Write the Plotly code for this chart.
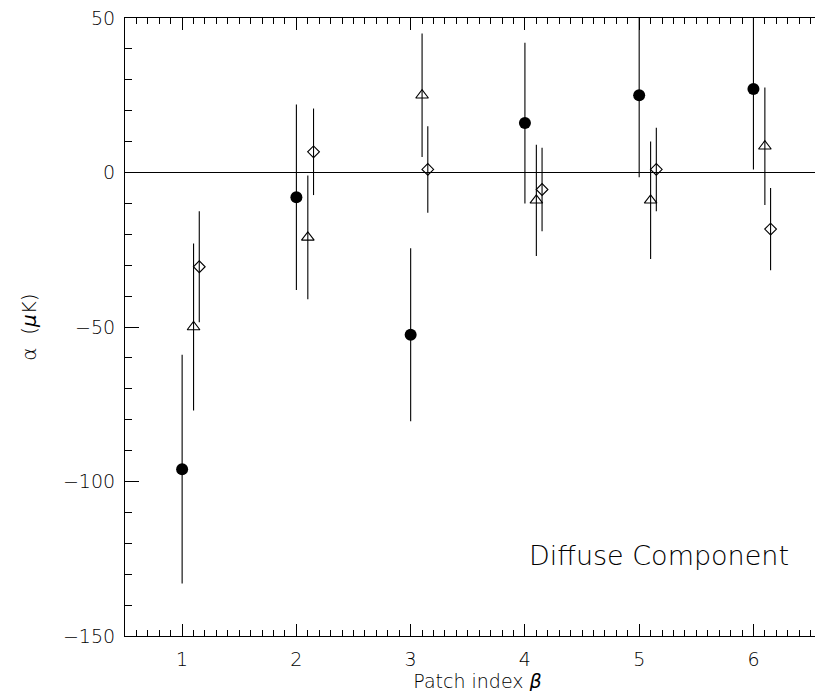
import plotly.graph_objects as go

# ---- data ----
patch = [1, 2, 3, 4, 5, 6]

dot_vals = [-96, -8, -52.5, 16, 25, 27]
dot_err = [37, 30, 28, 26, 26.5, 26]

tri_x = [1.10, 2.10, 3.10, 4.10, 5.10, 6.10]
tri_vals = [-50, -21, 25, -9, -9, 8.5]
tri_err = [27, 20, 20, 18, 19, 19]

dia_x = [1.15, 2.15, 3.15, 4.15, 5.15, 6.15]
dia_vals = [-30.5, 6.7, 1, -5.5, 1, -18.3]
dia_err = [18, 14, 14, 13.5, 13.5, 13.3]

y_ticks = [50, 0, -50, -100, -150]
x_ticks = [1, 2, 3, 4, 5, 6]

FONT = "DejaVu Sans"
fig = go.Figure()

def err(vals):
    return dict(type="data", array=vals, visible=True, color="black",
                thickness=1.1, width=0)

fig.add_trace(go.Scatter(x=patch, y=dot_vals, mode="markers",
                         marker=dict(symbol="circle", size=12, color="black"),
                         error_y=err(dot_err), showlegend=False))
fig.add_trace(go.Scatter(x=tri_x, y=tri_vals, mode="markers",
                         marker=dict(symbol="triangle-up-open", size=11, color="black",
                                     line=dict(width=1.1, color="black")),
                         error_y=err(tri_err), showlegend=False))
fig.add_trace(go.Scatter(x=dia_x, y=dia_vals, mode="markers",
                         marker=dict(symbol="diamond-open", size=9, color="black",
                                     line=dict(width=1.1, color="black")),
                         error_y=err(dia_err), showlegend=False))

fig.add_annotation(x=5.17, y=-124, xref="x", yref="y", text="Diffuse Component",
                   showarrow=False, font=dict(family=FONT, size=27, color="#000000", weight=300))

tfont = dict(family=FONT, size=19, color="#000000", weight=300)
axis_common = dict(showgrid=False, showline=True, linecolor="black", linewidth=1.2,
                   mirror="ticks", ticks="inside", tickcolor="black", tickwidth=1.1,
                   tickfont=tfont, ticklabeloverflow="allow")

fig.update_xaxes(range=[0.5, 6.67], tickvals=x_ticks, ticklen=12, ticklabelstandoff=6,
                 minor=dict(ticks="inside", dtick=0.1, ticklen=6, tickcolor="black", tickwidth=1),
                 zeroline=False,
                 title=dict(text="Patch index <i>β</i>", standoff=4, font=tfont),
                 **axis_common)
fig.update_yaxes(range=[-150, 50], tickvals=y_ticks, ticklen=14, ticklabelstandoff=5,
                 minor=dict(ticks="inside", dtick=10, ticklen=7, tickcolor="black", tickwidth=1),
                 zeroline=True, zerolinecolor="black", zerolinewidth=1.2,
                 title=dict(text="α  (<i>μ</i>K)", standoff=20,
                            font=dict(family=FONT, size=20, color="#000000", weight=300)),
                 **axis_common)

fig.update_layout(template="none", width=823, height=691,
                  plot_bgcolor="white", paper_bgcolor="white",
                  margin=dict(l=117, r=1, t=10, b=63),
                  font=dict(family=FONT, color="#000000"))

fig.write_html("out.html")
